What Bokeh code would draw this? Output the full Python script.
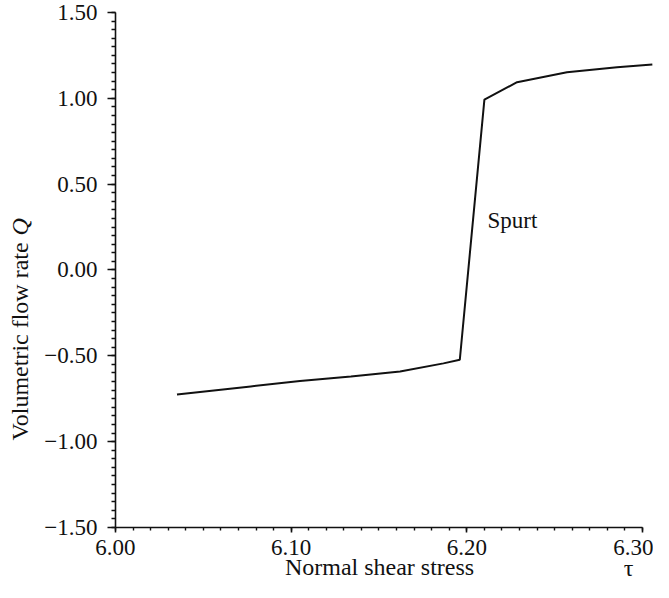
import numpy as np
from bokeh.plotting import figure
from bokeh.models import Label, FixedTicker, Range1d
from bokeh.embed import file_html
from bokeh.resources import INLINE

# Data
tau = [6.035, 6.077, 6.105, 6.134, 6.162, 6.1867, 6.196, 6.210, 6.2286, 6.257, 6.2855, 6.3056]
flow_q = [-0.725, -0.678, -0.647, -0.620, -0.591, -0.544, -0.523, 0.992, 1.094, 1.152, 1.181, 1.197]

y_ticks = [-1.5, -1.0, -0.5, 0.0, 0.5, 1.0, 1.5]
y_labels = ["\u22121.50", "\u22121.00", "\u22120.50", "0.00", "0.50", "1.00", "1.50"]
x_ticks = [6.0, 6.1, 6.2, 6.3]
x_labels = ["6.00", "6.10", "6.20", "6.30"]
x_minor_step = 0.01
y_minor_step = 0.05

FONT = "Liberation Serif"
INK = "#111111"

# the frame covers the whole canvas; the axes sit at fixed data locations
p = figure(width=653, height=582, output_backend="svg", toolbar_location=None,
           x_range=Range1d(5.93454, 6.30626), y_range=Range1d(-1.8204, 1.5699),
           min_border=0)
p.outline_line_color = None
p.grid.visible = False
p.background_fill_color = "white"
p.border_fill_color = "white"

p.line(tau, flow_q, line_color=INK, line_width=2)

xa = p.xaxis[0]
ya = p.yaxis[0]
xa.fixed_location = y_ticks[0]
ya.fixed_location = x_ticks[0]
xa.bounds = (x_ticks[0], x_ticks[-1])
ya.bounds = (y_ticks[0], y_ticks[-1])

x_minor = [float(v) for v in np.round(np.arange(x_ticks[0], x_ticks[-1] + 1e-9, x_minor_step), 2)]
y_minor = [float(v) for v in np.round(np.arange(y_ticks[0], y_ticks[-1] + 1e-9, y_minor_step), 2)]
xa.ticker = FixedTicker(ticks=x_ticks, minor_ticks=x_minor)
ya.ticker = FixedTicker(ticks=y_ticks, minor_ticks=y_minor)

for ax in (xa, ya):
    ax.axis_line_color = INK
    ax.axis_line_width = 1.6
    ax.major_tick_line_color = INK
    ax.minor_tick_line_color = INK
    ax.major_tick_line_width = 1.6
    ax.minor_tick_line_width = 1.4
    ax.major_tick_in = 0
    ax.minor_tick_in = 0
    ax.major_label_text_font = FONT
    ax.major_label_text_font_size = "23px"
    ax.major_label_text_color = INK

xa.major_tick_out = 5
xa.minor_tick_out = 3
xa.major_label_standoff = 8
ya.major_tick_out = 8
ya.minor_tick_out = 4
ya.major_label_standoff = 10

ya.major_label_overrides = dict(zip(y_ticks, y_labels))
xa.major_label_overrides = dict(zip(x_ticks, x_labels))

# axis titles
p.add_layout(Label(x=6.1503, y=-1.7302, text="Normal shear stress", text_align="center",
                   text_baseline="alphabetic", text_font=FONT, text_font_size="24px", text_color=INK))
p.add_layout(Label(x=5.94563, y=-0.9932, text="Volumetric flow rate", angle=np.pi / 2,
                   text_align="left", text_baseline="alphabetic", text_font=FONT,
                   text_font_size="24px", text_color=INK))
p.add_layout(Label(x=5.94563, y=0.201, text="Q", angle=np.pi / 2, text_align="left",
                   text_baseline="alphabetic", text_font=FONT, text_font_style="italic",
                   text_font_size="24px", text_color=INK))
p.add_layout(Label(x=6.2920, y=-1.7359, text="\u03c4", text_align="center", text_baseline="alphabetic",
                   text_font=FONT, text_font_size="24px", text_color=INK))

# annotation
p.add_layout(Label(x=6.21176, y=0.2912, text="Spurt", text_align="left", text_baseline="alphabetic",
                   text_font=FONT, text_font_size="23px", text_color=INK))

open("out.html", "w").write(file_html(p, INLINE))
